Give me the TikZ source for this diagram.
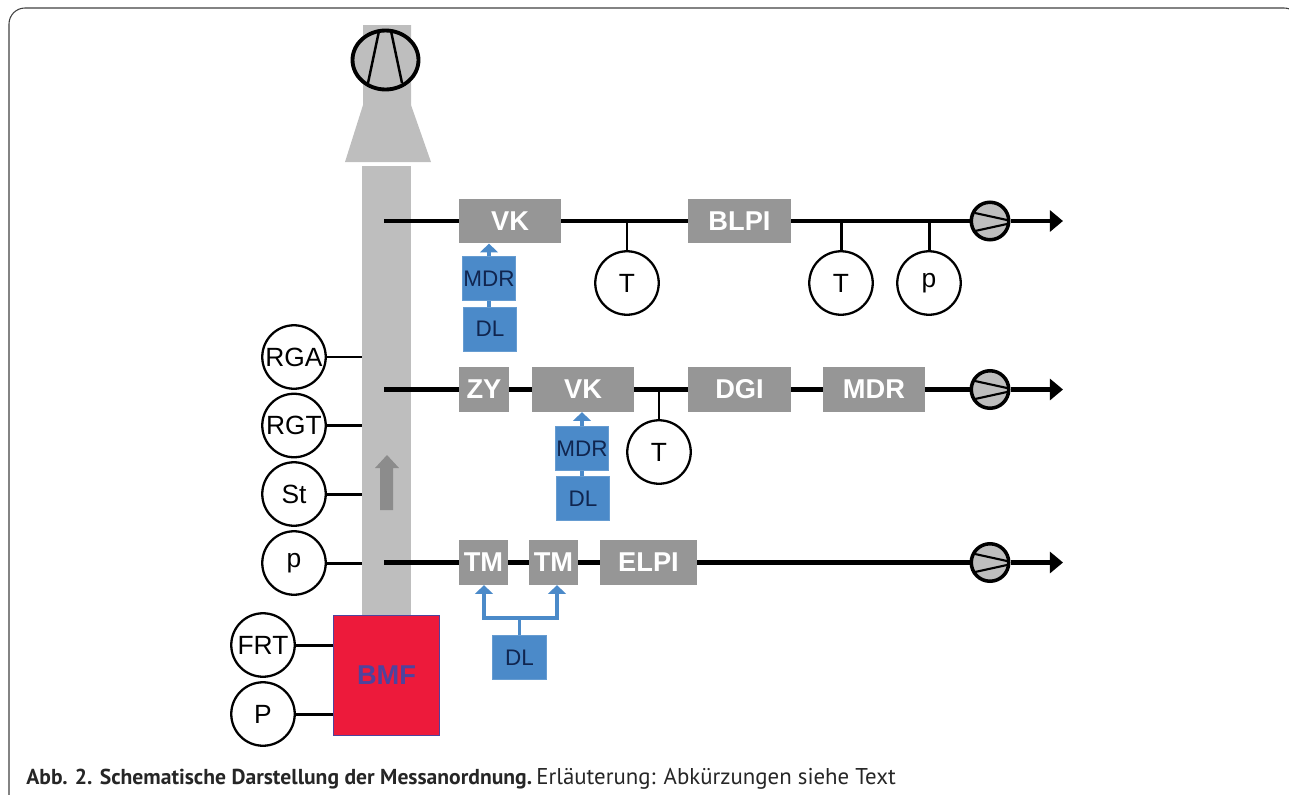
\documentclass[tikz,border=0pt]{standalone}
\usepackage{fontspec}
\setmainfont{Liberation Sans}
\newfontfamily\capfont{PT Sans}
\usepackage{tikz}
\usetikzlibrary{positioning,arrows.meta,shapes.geometric}
\definecolor{boxgray}{HTML}{969696}
\definecolor{ductgray}{HTML}{BEBEBE}
\definecolor{dlblue}{HTML}{4B8AC9}
\definecolor{dltext}{HTML}{10254F}
\definecolor{bmfred}{HTML}{ED1A3B}
\definecolor{bmfblue}{HTML}{4F439D}

\begin{document}
\begin{tikzpicture}[x=0.02cm,y=-0.02cm,
  gbox/.style={fill=boxgray,text=white,font=\bfseries\fontsize{15.5}{16}\selectfont,inner sep=0pt,minimum height=.89cm},
  bbox/.style={fill=dlblue,draw=dlblue!85!white,text=dltext,font=\fontsize{12.8}{14}\selectfont,inner sep=0pt,minimum width=1.06cm,minimum height=.88cm},
  sens/.style={circle,draw,fill=white,line width=1.3pt,inner sep=0pt,minimum size=1.27cm,font=\fontsize{15}{16}\selectfont},
  pump/.style={circle,draw,fill=ductgray,line width=2pt,inner sep=0pt,minimum size=.75cm},
  fan/.style={ellipse,draw,fill=ductgray,line width=2.2pt,inner sep=0pt,minimum width=1.32cm,minimum height=1.18cm},
  line/.style={line width=2.6pt},
  stem/.style={line width=1.7pt},
  bline/.style={draw=dlblue,line width=1.9pt},
  barrow/.style={bline,-{Triangle[length=5pt,width=10pt]}},
  outarrow/.style={line,-{Triangle[length=7.5pt,width=12pt]}}]
  \useasboundingbox (0,0) rectangle (1289,795);
  % frame and caption
  \draw[black!75,line width=.6pt,rounded corners=.32cm] (9,810) -- (9,8) -- (1300,8) -- (1300,810);
  \node[anchor=base west,inner sep=0pt,font=\capfont\fontsize{12.3}{14}\selectfont,text=black!85] (caption) at (26,784) {\textbf{Abb. 2. Schematische Darstellung der Messanordnung.}\hspace{-2pt} {\fontsize{13}{14}\selectfont Erläuterung: Abkürzungen siehe Text}};

  % stack and duct
  \fill[ductgray] (363,25) -- (411,25) -- (411,105) -- (431,162) -- (345,162) -- (363,105) -- cycle;
  \fill[ductgray] (362,166) rectangle (411,620);
  \fill[black!45] (380,510) -- (380,468) -- (375,468) -- (387,455) -- (399,468) -- (393,468) -- (393,510) -- cycle;
  \node[fan] (fan) at (385.5,60) {};
  \draw[line width=1.4pt] (379,31) -- (368,83);
  \draw[line width=1.4pt] (391,31) -- (402,83);

  % furnace
  \node[fill=bmfred,draw=bmfblue,line width=1.1pt,minimum width=2.12cm,minimum height=2.4cm,inner sep=0pt,text=bmfblue,font=\bfseries\fontsize{15.5}{16}\selectfont] (bmf) at (386.5,675.5) {BMF};

  % upper line
  \coordinate (s1) at (384,221);
  \coordinate (e1) at (1063,221);
  \node[gbox,minimum width=2.04cm] (vk1) at (510,221) {VK};
  \node[gbox,minimum width=2.06cm] (blpi) at (739.5,221) {BLPI};
  \node[pump] (pump1) at (990,221) {};
  \node[bbox] (mdr1) at (489,278.5) {MDR};
  \node[bbox] (dl1) at (490,329) {DL};
  \node[sens] (t1) at (627,283) {T};
  \node[sens] (t2) at (841,283) {T};
  \node[sens] (p1) at (929,283) {p};
  \draw[line] (s1) -- (vk1);
  \draw[line] (vk1) -- (blpi);
  \draw[line] (blpi) -- (pump1);
  \draw[outarrow] (pump1) -- (e1);
  \draw[stem] (t1) -- (t1 |- s1);
  \draw[stem] (t2) -- (t2 |- s1);
  \draw[stem] (p1) -- (p1 |- s1);
  \draw[bline] (dl1.north -| mdr1) -- (mdr1);
  \draw[barrow] (mdr1.north) -- (mdr1.north |- vk1.south);

  % middle line
  \coordinate (s2) at (384,389.5);
  \coordinate (e2) at (1063,389.5);
  \node[gbox,minimum width=1cm] (zy) at (484,389.5) {ZY};
  \node[gbox,minimum width=2.04cm] (vk2) at (583,389.5) {VK};
  \node[gbox,minimum width=2.06cm] (dgi) at (739.5,389.5) {DGI};
  \node[gbox,minimum width=2.04cm] (mdr3) at (874,389.5) {MDR};
  \node[pump] (pump2) at (990,389.5) {};
  \node[bbox] (mdr2) at (582,448.5) {MDR};
  \node[bbox] (dl2) at (583,498.5) {DL};
  \node[sens] (t3) at (659,452) {T};
  \draw[line] (s2) -- (zy);
  \draw[line] (zy) -- (vk2);
  \draw[line] (vk2) -- (dgi);
  \draw[line] (dgi) -- (mdr3);
  \draw[line] (mdr3) -- (pump2);
  \draw[outarrow] (pump2) -- (e2);
  \draw[stem] (t3) -- (t3 |- s2);
  \draw[bline] (dl2.north -| mdr2) -- (mdr2);
  \draw[barrow] (mdr2.north) -- (mdr2.north |- vk2.south);

  % lower line
  \coordinate (s3) at (384,562.5);
  \coordinate (e3) at (1063,562.5);
  \coordinate (j1) at (484,618);
  \coordinate (j2) at (557,618);
  \node[gbox,minimum width=.98cm] (tm1) at (483.5,562.5) {TM};
  \node[gbox,minimum width=.98cm] (tm2) at (553.5,562.5) {TM};
  \node[gbox,minimum width=1.94cm] (elpi) at (648.5,562.5) {ELPI};
  \node[pump] (pump3) at (990,562.5) {};
  \node[bbox,minimum width=1.08cm] (dl3) at (519.5,657.5) {DL};
  \draw[line] (s3) -- (tm1);
  \draw[line] (tm1) -- (tm2);
  \draw[line] (tm2) -- (elpi);
  \draw[line] (elpi) -- (pump3);
  \draw[outarrow] (pump3) -- (e3);
  \draw[bline] (dl3) -- (dl3 |- j1);
  \draw[barrow] (j1) -- (j1 |- tm1.south);
  \draw[barrow] (j2) -- (j2 |- tm2.south);
  \draw[bline,line cap=rect] (j1) -- (j2);

  % pump blades
  \draw[line width=1.2pt] (975,213) -- (1007,220);
  \draw[line width=1.2pt] (975,231) -- (1007,224);
  \draw[line width=1.2pt] (975,381) -- (1007,388);
  \draw[line width=1.2pt] (975,399) -- (1007,392);
  \draw[line width=1.2pt] (975,554) -- (1007,561);
  \draw[line width=1.2pt] (975,572) -- (1007,565);

  % sensors at duct and furnace
  \node[sens] (rga) at (294,357) {RGA};
  \node[sens] (rgt) at (294,425.5) {RGT};
  \node[sens] (st) at (294,494) {St};
  \node[sens] (p2) at (294,563) {p};
  \node[sens] (frt) at (263,645) {FRT};
  \node[sens] (pw) at (263,714) {P};
  \draw[stem] (rga) -- (362,357);
  \draw[stem] (rgt) -- (362,425.5);
  \draw[stem] (st) -- (362,494);
  \draw[stem] (p2) -- (362,563);
  \draw[stem] (frt) -- (frt -| bmf.west);
  \draw[stem] (pw) -- (pw -| bmf.west);
\end{tikzpicture}
\end{document}
